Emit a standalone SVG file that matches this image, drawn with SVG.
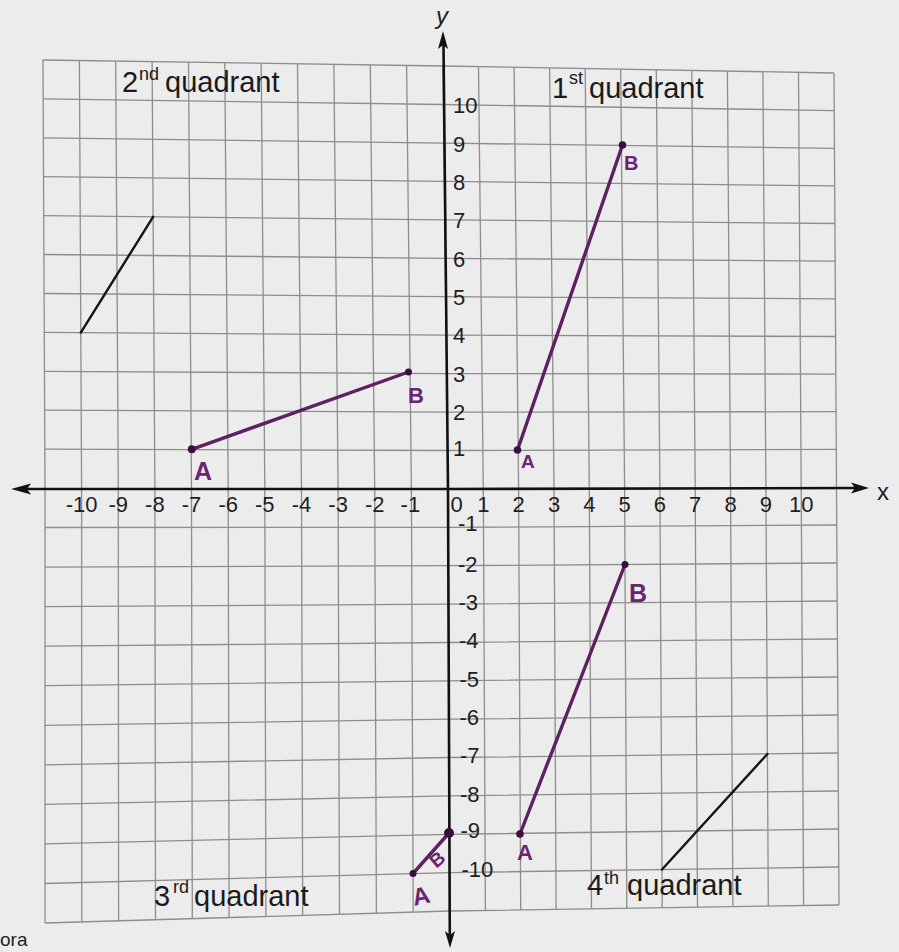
<svg xmlns="http://www.w3.org/2000/svg" width="899" height="952" viewBox="0 0 899 952">
<style>
.grid{fill:none;stroke:#8d8d8d;stroke-width:1.3}
.axis{fill:none;stroke:#111;stroke-width:2.6}
.head{fill:#111}
.num{font-family:"Liberation Sans",Arial,sans-serif;font-size:22px;fill:#1e1e1e}
.q{font-family:"Liberation Sans",Arial,sans-serif;font-size:29px;fill:#1a1a1a}
.sup{font-size:18px}
.seg{stroke:#5e2160;stroke-width:3.4;stroke-linecap:round}
.blk{stroke:#141414;stroke-width:2.4;stroke-linecap:round}
.dot{fill:#3a0f3d}
.hw{font-family:"Liberation Sans",Arial,sans-serif;font-size:22px;fill:#6a2470;font-weight:bold}
</style>
<rect x="0" y="0" width="899" height="952" fill="#ececec"/>
<g id="grid" class="grid">
<path d="M43,60 L45,488 L45,923 M79.4,60.5 L81.6,488.1 L81.8,921.9 M115.7,61.1 L118.3,488.2 L118.6,920.8 M152.1,61.6 L154.9,488.3 L155.5,919.7 M188.5,62.2 L191.5,488.4 L192.3,918.6 M224.8,62.7 L228.2,488.5 L229.1,917.5 M261.2,63.3 L264.8,488.5 L265.9,916.5 M297.5,63.8 L301.5,488.6 L302.7,915.4 M333.9,64.4 L338.1,488.7 L339.5,914.3 M370.3,64.9 L374.7,488.8 L376.4,913.2 M406.6,65.5 L411.4,488.9 L413.2,912.1 M443,66 L448,489 L450,911 M478.5,66.6 L483.3,488.8 L485.4,910.5 M514.1,67.3 L518.6,488.6 L520.7,909.9 M549.6,67.9 L554,488.5 L556.1,909.4 M585.2,68.5 L589.3,488.3 L591.5,908.8 M620.7,69.2 L624.6,488.1 L626.8,908.3 M656.3,69.8 L659.9,487.9 L662.2,907.7 M691.8,70.5 L695.2,487.7 L697.5,907.2 M727.4,71.1 L730.5,487.5 L732.9,906.6 M762.9,71.7 L765.9,487.4 L768.3,906.1 M798.5,72.4 L801.2,487.2 L803.6,905.5 M834,73 L836.5,487 L839,905"/>
<path d="M43,60 L443,66 L834,73 M43.2,98.9 L443.5,104.5 L834.2,110.6 M43.4,137.8 L443.9,143.1 L834.5,148.3 M43.5,176.7 L444.4,181.4 L834.7,185.9 M43.7,215.6 L444.8,219.8 L834.9,223.5 M43.9,254.5 L445.3,258.3 L835.1,261.2 M44.1,293.5 L445.7,296.7 L835.4,298.8 M44.3,332.4 L446.2,335.2 L835.6,336.5 M44.5,371.3 L446.6,373.6 L835.8,374.1 M44.6,410.2 L447.1,412.1 L836,411.7 M44.8,449.1 L447.5,450.5 L836.3,449.4 M45,527.5 L448.2,527.4 L836.7,525 M45,567.1 L448.4,565.7 L837,563 M45,606.6 L448.5,604.1 L837.2,601 M45,646.2 L448.7,642.5 L837.4,639 M45,685.7 L448.9,680.8 L837.6,677 M45,725.3 L449.1,719.2 L837.9,715 M45,764.8 L449.3,757.5 L838.1,753 M45,804.4 L449.5,795.9 L838.3,791 M45,843.9 L449.6,834.3 L838.5,829 M45,883.5 L449.8,872.6 L838.8,867 M45,923 L450,911 L839,905"/>
</g>
<g id="axes">
<path class="axis" d="M25,489 L448,489 L857,488"/>
<path class="axis" d="M443.5,45 L448,489 L449.8,935"/>
<polygon class="head" points="11,489 31,483.5 27,489 31,494.5"/>
<polygon class="head" points="869,488 851,482.5 855,488 851,493.5"/>
<polygon class="head" points="443,31 448,49 443,45 438,49"/>
<polygon class="head" points="450,948 445,931 450,935 455,931"/>
<text class="num" x="877" y="500" style="font-size:24px">x</text>
<text class="num" x="436" y="24" style="font-size:24px;font-style:italic">y</text>
</g>
<g id="x-labels" class="num" text-anchor="middle">
<text x="81.6" y="512">-10</text><text x="118.3" y="512">-9</text><text x="154.9" y="512">-8</text><text x="191.5" y="512">-7</text><text x="228.2" y="512">-6</text><text x="264.8" y="512">-5</text><text x="301.5" y="512">-4</text><text x="338.1" y="512">-3</text><text x="374.7" y="512">-2</text><text x="410.4" y="512">-1</text>
<text x="456.5" y="512">0</text><text x="483.3" y="512">1</text><text x="518.6" y="512">2</text><text x="554" y="512">3</text><text x="589.3" y="512">4</text><text x="624.6" y="512">5</text><text x="659.9" y="512">6</text><text x="695.2" y="512">7</text><text x="730.5" y="512">8</text><text x="765.9" y="512">9</text><text x="801.2" y="512">10</text>
</g>
<g id="y-labels" class="num">
<text x="453" y="113">10</text><text x="453" y="152">9</text><text x="453" y="190">8</text><text x="453" y="228">7</text><text x="453" y="267">6</text><text x="453" y="305">5</text><text x="453" y="343">4</text><text x="453" y="382">3</text><text x="453" y="420">2</text><text x="453" y="456">1</text>
<text x="458" y="531">-1</text><text x="458" y="572">-2</text><text x="458.5" y="610">-3</text><text x="459" y="648">-4</text><text x="459.5" y="687">-5</text><text x="459.5" y="725">-6</text><text x="460" y="763">-7</text><text x="460" y="802">-8</text><text x="460.5" y="838">-9</text><text x="461.5" y="877">-10</text>
</g>
<g id="quadrant-labels" class="q">
<text y="92"><tspan x="122">2</tspan><tspan class="sup" x="139" y="80">nd</tspan><tspan x="165" y="92">quadrant</tspan></text>
<text y="98"><tspan x="552">1</tspan><tspan class="sup" x="569" y="84">st</tspan><tspan x="589" y="98">quadrant</tspan></text>
<text y="906"><tspan x="154">3</tspan><tspan class="sup" x="173" y="893">rd</tspan><tspan x="194" y="906">quadrant</tspan></text>
<text y="895"><tspan x="587">4</tspan><tspan class="sup" x="604" y="884">th</tspan><tspan x="627" y="895">quadrant</tspan></text>
</g>
<g id="black-segments">
<line class="blk" x1="80.8" y1="332.6" x2="153.1" y2="216.8"/>
<line class="blk" x1="662" y1="869.5" x2="767.4" y2="754"/>
</g>
<g id="segment-q2">
<line class="seg" x1="191.8" y1="449.3" x2="408.5" y2="372"/>
<circle class="dot" cx="191.8" cy="449.3" r="4"/><circle class="dot" cx="408.5" cy="372" r="3.5"/>
<text class="hw" x="194" y="480" style="font-size:25px">A</text>
<text class="hw" x="408" y="403">B</text>
</g>
<g id="segment-q1">
<line class="seg" x1="517.5" y1="450" x2="622.5" y2="145"/>
<circle class="dot" cx="517.5" cy="450" r="3.8"/><circle class="dot" cx="622.5" cy="145" r="3.8"/>
<text class="hw" x="521" y="468" style="font-size:19px">A</text>
<text class="hw" x="624" y="170" style="font-size:20px">B</text>
</g>
<g id="segment-q4">
<line class="seg" x1="520" y1="834" x2="625" y2="564.5"/>
<circle class="dot" cx="520" cy="834" r="3.8"/><circle class="dot" cx="625" cy="564.5" r="3.5"/>
<text class="hw" x="517" y="860">A</text>
<text class="hw" x="629" y="602" style="font-size:25px">B</text>
</g>
<g id="segment-q3">
<line class="seg" x1="413" y1="873.5" x2="449" y2="833"/>
<circle class="dot" cx="413" cy="873.5" r="3.5"/><circle class="dot" cx="449" cy="833" r="5"/>
<text class="hw" x="412" y="904" style="font-size:24px" transform="rotate(-12 421 894)">A</text>
<text class="hw" x="430" y="866" style="font-size:19px" transform="rotate(-40 437 859)">B</text>
</g>
<text id="page-fragment" class="num" x="0" y="946" style="font-size:19px">ora</text>
</svg>
